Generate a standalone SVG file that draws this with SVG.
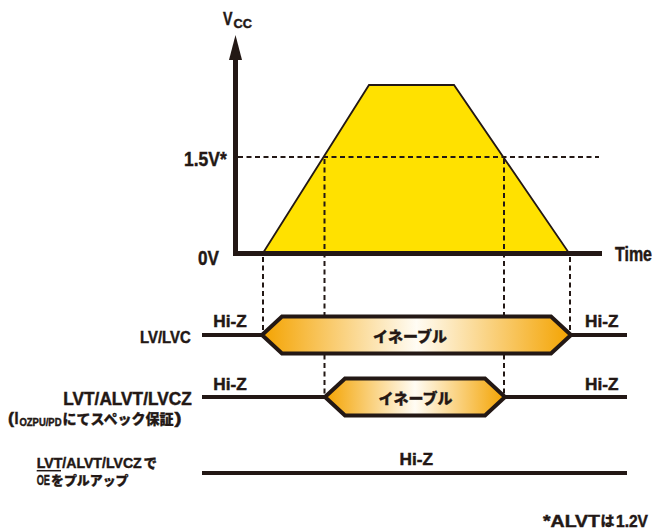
<svg xmlns="http://www.w3.org/2000/svg" width="656" height="531" viewBox="0 0 656 531">
<style>
.t{font-family:"Liberation Sans",Arial,sans-serif;font-weight:bold;fill:#231815;stroke:#231815;stroke-width:0.45}
.j{font-family:"Noto Sans CJK JP",sans-serif;font-weight:900;fill:#231815;stroke:#231815;stroke-width:0.3}
.ax{stroke:#231815;stroke-width:5;fill:none}
.sig{stroke:#231815;stroke-width:4;fill:none}
.dash{stroke:#231815;stroke-width:2;stroke-dasharray:5 3.5;fill:none}
.hex{stroke:#231815;stroke-width:4;stroke-linejoin:miter}
</style>
<defs>
<linearGradient id="en" x1="0" y1="0" x2="1" y2="0">
<stop offset="0" stop-color="#F4A300"/>
<stop offset="0.5" stop-color="#FFFCF4"/>
<stop offset="1" stop-color="#F4A300"/>
</linearGradient>
</defs>
<g id="vcc-waveform">
<polygon points="263,253 369,85 454,85 569,253" fill="#FFE100" stroke="#231815" stroke-width="1.8" stroke-linejoin="miter"/>
</g>
<g id="axes">
<line class="ax" x1="235.5" y1="58" x2="235.5" y2="253.5"/>
<polygon points="235.5,35 229,60 242,60" fill="#231815"/>
<line class="ax" x1="233" y1="253.5" x2="602" y2="253.5"/>
<text class="t" x="223" y="25" font-size="19" textLength="9.5" lengthAdjust="spacingAndGlyphs">V</text>
<text class="t" x="233.5" y="27.7" font-size="13" textLength="18.4" lengthAdjust="spacingAndGlyphs">CC</text>
<text class="t" x="184" y="165.7" font-size="20.5" textLength="42.7" lengthAdjust="spacingAndGlyphs">1.5V*</text>
<text class="t" x="198" y="265" font-size="20.5" textLength="21" lengthAdjust="spacingAndGlyphs">0V</text>
<text class="t" x="615" y="260.5" font-size="20" textLength="37" lengthAdjust="spacingAndGlyphs">Time</text>
</g>
<g id="connectors">
<line class="dash" x1="238" y1="157" x2="599" y2="157"/>
<line class="dash" x1="263" y1="257" x2="263" y2="333"/>
<line class="dash" x1="324.5" y1="159" x2="324.5" y2="395"/>
<line class="dash" x1="504" y1="159" x2="504" y2="395"/>
<line class="dash" x1="570" y1="257" x2="570" y2="333"/>
<line class="sig" x1="202" y1="335" x2="262" y2="335"/>
<line class="sig" x1="571" y1="335" x2="627" y2="335"/>
<line class="sig" x1="202" y1="397" x2="325" y2="397"/>
<line class="sig" x1="505" y1="397" x2="627" y2="397"/>
<line class="sig" x1="202" y1="473" x2="627" y2="473"/>
</g>
<g id="lv-lvc">
<polygon class="hex" fill="url(#en)" points="262,335 282,316.5 551,316.5 571,335 551,353.5 282,353.5"/>
<text class="j" x="410" y="341.5" font-size="15" text-anchor="middle">イネーブル</text>
<text class="t" x="140" y="342.7" font-size="16" textLength="50.7" lengthAdjust="spacingAndGlyphs">LV/LVC</text>
<text class="t" x="213.3" y="327" font-size="16.5" textLength="33.5" lengthAdjust="spacingAndGlyphs">Hi-Z</text>
<text class="t" x="585" y="327" font-size="16.5" textLength="33.5" lengthAdjust="spacingAndGlyphs">Hi-Z</text>
</g>
<g id="lvt-alvt-lvcz">
<polygon class="hex" fill="url(#en)" points="325,397 345,378.5 485,378.5 505,397 485,415.5 345,415.5"/>
<text class="j" x="415.5" y="403.5" font-size="15" text-anchor="middle">イネーブル</text>
<text class="t" x="63.3" y="405" font-size="18" textLength="128.4" lengthAdjust="spacingAndGlyphs">LVT/ALVT/LVCZ</text>
<text class="t" x="8" y="424" font-size="16" textLength="6" lengthAdjust="spacingAndGlyphs">(</text>
<text class="t" x="14.5" y="423.5" font-size="16" textLength="4" lengthAdjust="spacingAndGlyphs">I</text>
<text class="t" x="19.5" y="425.5" font-size="11" textLength="42" lengthAdjust="spacingAndGlyphs">OZPU/PD</text>
<text class="j" x="62.5" y="424" font-size="14" textLength="111" lengthAdjust="spacingAndGlyphs">にてスペック保証</text>
<text class="t" x="174.5" y="424" font-size="16" textLength="7" lengthAdjust="spacingAndGlyphs">)</text>
<text class="t" x="213.3" y="390" font-size="16.5" textLength="33.5" lengthAdjust="spacingAndGlyphs">Hi-Z</text>
<text class="t" x="585" y="390" font-size="16.5" textLength="33.5" lengthAdjust="spacingAndGlyphs">Hi-Z</text>
</g>
<g id="pullup">
<text class="t" x="36.7" y="468.3" font-size="15.5" textLength="105" lengthAdjust="spacingAndGlyphs">LVT/ALVT/LVCZ</text>
<text class="j" x="143.5" y="467.5" font-size="13.5">で</text>
<line x1="36.7" y1="470.7" x2="61" y2="470.7" stroke="#231815" stroke-width="1.5"/>
<text class="t" x="36.7" y="485" font-size="15.5" textLength="13.3" lengthAdjust="spacingAndGlyphs">OE</text>
<text class="j" x="51" y="484.5" font-size="13" textLength="77.5" lengthAdjust="spacingAndGlyphs">をプルアップ</text>
<text class="t" x="399.5" y="465" font-size="16.5" textLength="33.5" lengthAdjust="spacingAndGlyphs">Hi-Z</text>
</g>
<g id="footnote">
<text class="t" x="543" y="527" font-size="16.5" textLength="57" lengthAdjust="spacingAndGlyphs">*ALVT</text>
<text class="j" x="600.5" y="526" font-size="14">は</text>
<text class="t" x="616" y="527" font-size="16.5" textLength="32" lengthAdjust="spacingAndGlyphs">1.2V</text>
</g>
</svg>
